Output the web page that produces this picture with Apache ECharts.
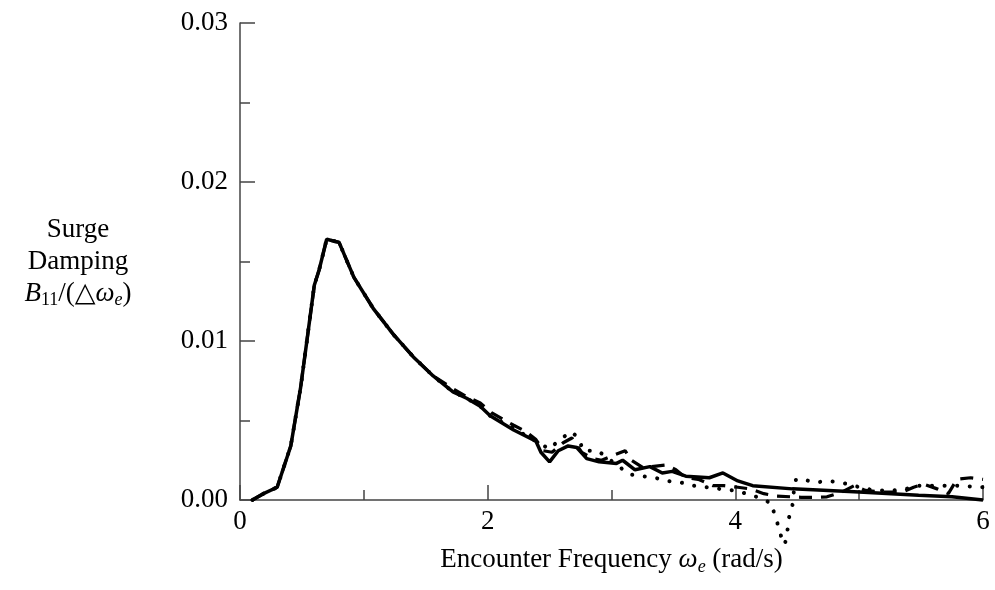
<!DOCTYPE html>
<html>
<head>
<meta charset="utf-8">
<script src="https://cdn.jsdelivr.net/npm/echarts@6/dist/echarts.min.js"></script>
<style>
html,body{margin:0;padding:0;background:#fff;}
#chart{width:995px;height:590px;}
</style>
</head>
<body>
<div id="chart"></div>
<script>
// Shared early part (all three curves coincide)
const commonX = [0.10, 0.19, 0.30, 0.41, 0.49, 0.54, 0.60, 0.64, 0.70, 0.80, 0.92, 1.08, 1.24, 1.40, 1.56];
const commonY = [0.0000, 0.0004, 0.0008, 0.0034, 0.0071, 0.0100, 0.0135, 0.0145, 0.0164, 0.0162, 0.0140, 0.0120, 0.0104, 0.0090, 0.0078];

// Solid curve (tail)
const solidX = [1.72, 1.83, 1.94, 2.02, 2.21, 2.39, 2.43, 2.50, 2.57, 2.65, 2.72, 2.80, 2.90, 3.04, 3.09, 3.19, 3.31, 3.41, 3.49, 3.60, 3.79, 3.90, 4.02, 4.14, 4.46, 5.00, 5.48, 5.75, 6.00];
const solidY = [0.0068, 0.0064, 0.0059, 0.0053, 0.0044, 0.0037, 0.0030, 0.0024, 0.0031, 0.0034, 0.0033, 0.0026, 0.0024, 0.0023, 0.0025, 0.0019, 0.0021, 0.0017, 0.0018, 0.0015, 0.0014, 0.0017, 0.0012, 0.0009, 0.0007, 0.0005, 0.0003, 0.0002, 0.0000];

// Dashed curve (tail)
const dashedX = [1.72, 1.83, 1.94, 2.03, 2.14, 2.21, 2.31, 2.39, 2.45, 2.52, 2.61, 2.68, 2.76, 2.85, 2.92, 3.01, 3.11, 3.16, 3.26, 3.32, 3.44, 3.52, 3.60, 3.70, 3.82, 3.91, 4.02, 4.12, 4.23, 4.33, 4.45, 4.53, 4.65, 4.74, 4.86, 4.96, 5.05, 5.20, 5.35, 5.44, 5.52, 5.63, 5.72, 5.79, 5.90, 6.00];
const dashedY = [0.0070, 0.0065, 0.0061, 0.0055, 0.0050, 0.0047, 0.0043, 0.0038, 0.0031, 0.0030, 0.0036, 0.0039, 0.0030, 0.0026, 0.0025, 0.0028, 0.0031, 0.0025, 0.0020, 0.0021, 0.0022, 0.0019, 0.0014, 0.0013, 0.0009, 0.0009, 0.0008, 0.0007, 0.0004, 0.00025, 0.0002, 0.00017, 0.00017, 0.0002, 0.0005, 0.0009, 0.0006, 0.0005, 0.0005, 0.0008, 0.0010, 0.0007, 0.0004, 0.0013, 0.0014, 0.0013];

// Dotted curve (tail)
const dottedX = [1.72, 1.83, 1.94, 2.02, 2.21, 2.39, 2.50, 2.58, 2.68, 2.74, 2.77, 2.89, 3.06, 3.15, 3.25, 3.35, 3.45, 3.56, 3.66, 3.77, 3.87, 3.99, 4.09, 4.19, 4.29, 4.32, 4.35, 4.38, 4.40, 4.42, 4.43, 4.46, 4.47, 4.49, 4.54, 4.65, 4.74, 4.85, 4.96, 5.05, 5.16, 5.27, 5.38, 5.48, 5.59, 5.69, 5.79, 6.00];
const dottedY = [0.0068, 0.0064, 0.0059, 0.0053, 0.0045, 0.0037, 0.0032, 0.0038, 0.0043, 0.0038, 0.0031, 0.0031, 0.0021, 0.0016, 0.0015, 0.0014, 0.0012, 0.0011, 0.0009, 0.0008, 0.0007, 0.0006, 0.0004, 0.00015, -0.0002, -0.0010, -0.0017, -0.0026, -0.0028, -0.0020, -0.0012, -0.0004, 0.0004, 0.0013, 0.0013, 0.0011, 0.0012, 0.0011, 0.0009, 0.0007, 0.0006, 0.0006, 0.0007, 0.0009, 0.0009, 0.0009, 0.0009, 0.0008];

const yTicks = [0, 0.01, 0.02, 0.03];
const xTicks = [0, 2, 4, 6];

function pairs(xs, ys) { return xs.map((x, i) => [x, ys[i]]); }
const solidData = pairs(commonX.concat(solidX), commonY.concat(solidY));
const dashedData = pairs(commonX.concat(dashedX), commonY.concat(dashedY));
const dottedData = pairs(commonX.concat(dottedX), commonY.concat(dottedY));

const FONT = '"Liberation Serif", "DejaVu Serif", serif';
const FS = 27;
const axisColor = '#444';
const rich = {
  n: {fontFamily: FONT, fontSize: FS, color: '#000', align: 'center', lineHeight: 32},
  i: {fontFamily: FONT, fontSize: FS, fontStyle: 'italic', color: '#000', align: 'center', lineHeight: 32},
  s: {fontFamily: FONT, fontSize: 18, color: '#000', align: 'center', verticalAlign: 'bottom', lineHeight: 24},
  si: {fontFamily: FONT, fontSize: 18, fontStyle: 'italic', color: '#000', align: 'center', verticalAlign: 'bottom', lineHeight: 24}
};

const chart = echarts.init(document.getElementById('chart'), null, {renderer: 'canvas'});
chart.setOption({
  animation: false,
  backgroundColor: '#fff',
  grid: {left: 240, right: 12, top: 23, bottom: 90, containLabel: false},
  xAxis: {
    type: 'value', min: xTicks[0], max: xTicks[xTicks.length - 1], interval: 2,
    axisLine: {show: true, lineStyle: {color: axisColor, width: 1.5}},
    axisTick: {show: true, inside: true, length: 15, lineStyle: {color: axisColor, width: 1.5}},
    minorTick: {show: true, splitNumber: 2, length: 10, lineStyle: {color: axisColor, width: 1.5}},
    splitLine: {show: false},
    axisLabel: {fontFamily: FONT, fontSize: FS, color: '#000', margin: 8},
    name: 'Encounter Frequency {i|ω}{si|e} {n|(rad/s)}',
    nameLocation: 'middle', nameGap: 44,
    nameTextStyle: {fontFamily: FONT, fontSize: FS, color: '#000', rich: rich}
  },
  yAxis: {
    type: 'value', min: yTicks[0], max: yTicks[yTicks.length - 1], interval: 0.01,
    axisLine: {show: true, lineStyle: {color: axisColor, width: 1.5}},
    axisTick: {show: true, inside: true, length: 15, lineStyle: {color: axisColor, width: 1.5}},
    minorTick: {show: true, splitNumber: 2, length: 10, lineStyle: {color: axisColor, width: 1.5}},
    splitLine: {show: false},
    axisLabel: {fontFamily: FONT, fontSize: FS, color: '#000', margin: 12, formatter: v => v.toFixed(2)},
    name: '{n|Surge}\n{n|Damping}\n{i|B}{s|11}{n|/(△}{i|ω}{si|e}{n|)}',
    nameLocation: 'middle', nameRotate: 0, nameGap: 162,
    nameTextStyle: {fontFamily: FONT, fontSize: FS, color: '#000', align: 'center', rich: rich}
  },
  series: [
    {type: 'line', data: dottedData, showSymbol: false, clip: false, z: 2,
     lineStyle: {color: '#000', width: 4, type: [0.1, 12.5], cap: 'round'}},
    {type: 'line', data: dashedData, showSymbol: false, clip: false, z: 3,
     lineStyle: {color: '#000', width: 3.2, type: [13, 9]}},
    {type: 'line', data: solidData, showSymbol: false, clip: false, z: 4,
     lineStyle: {color: '#000', width: 3.5}}
  ]
});
</script>
</body>
</html>
